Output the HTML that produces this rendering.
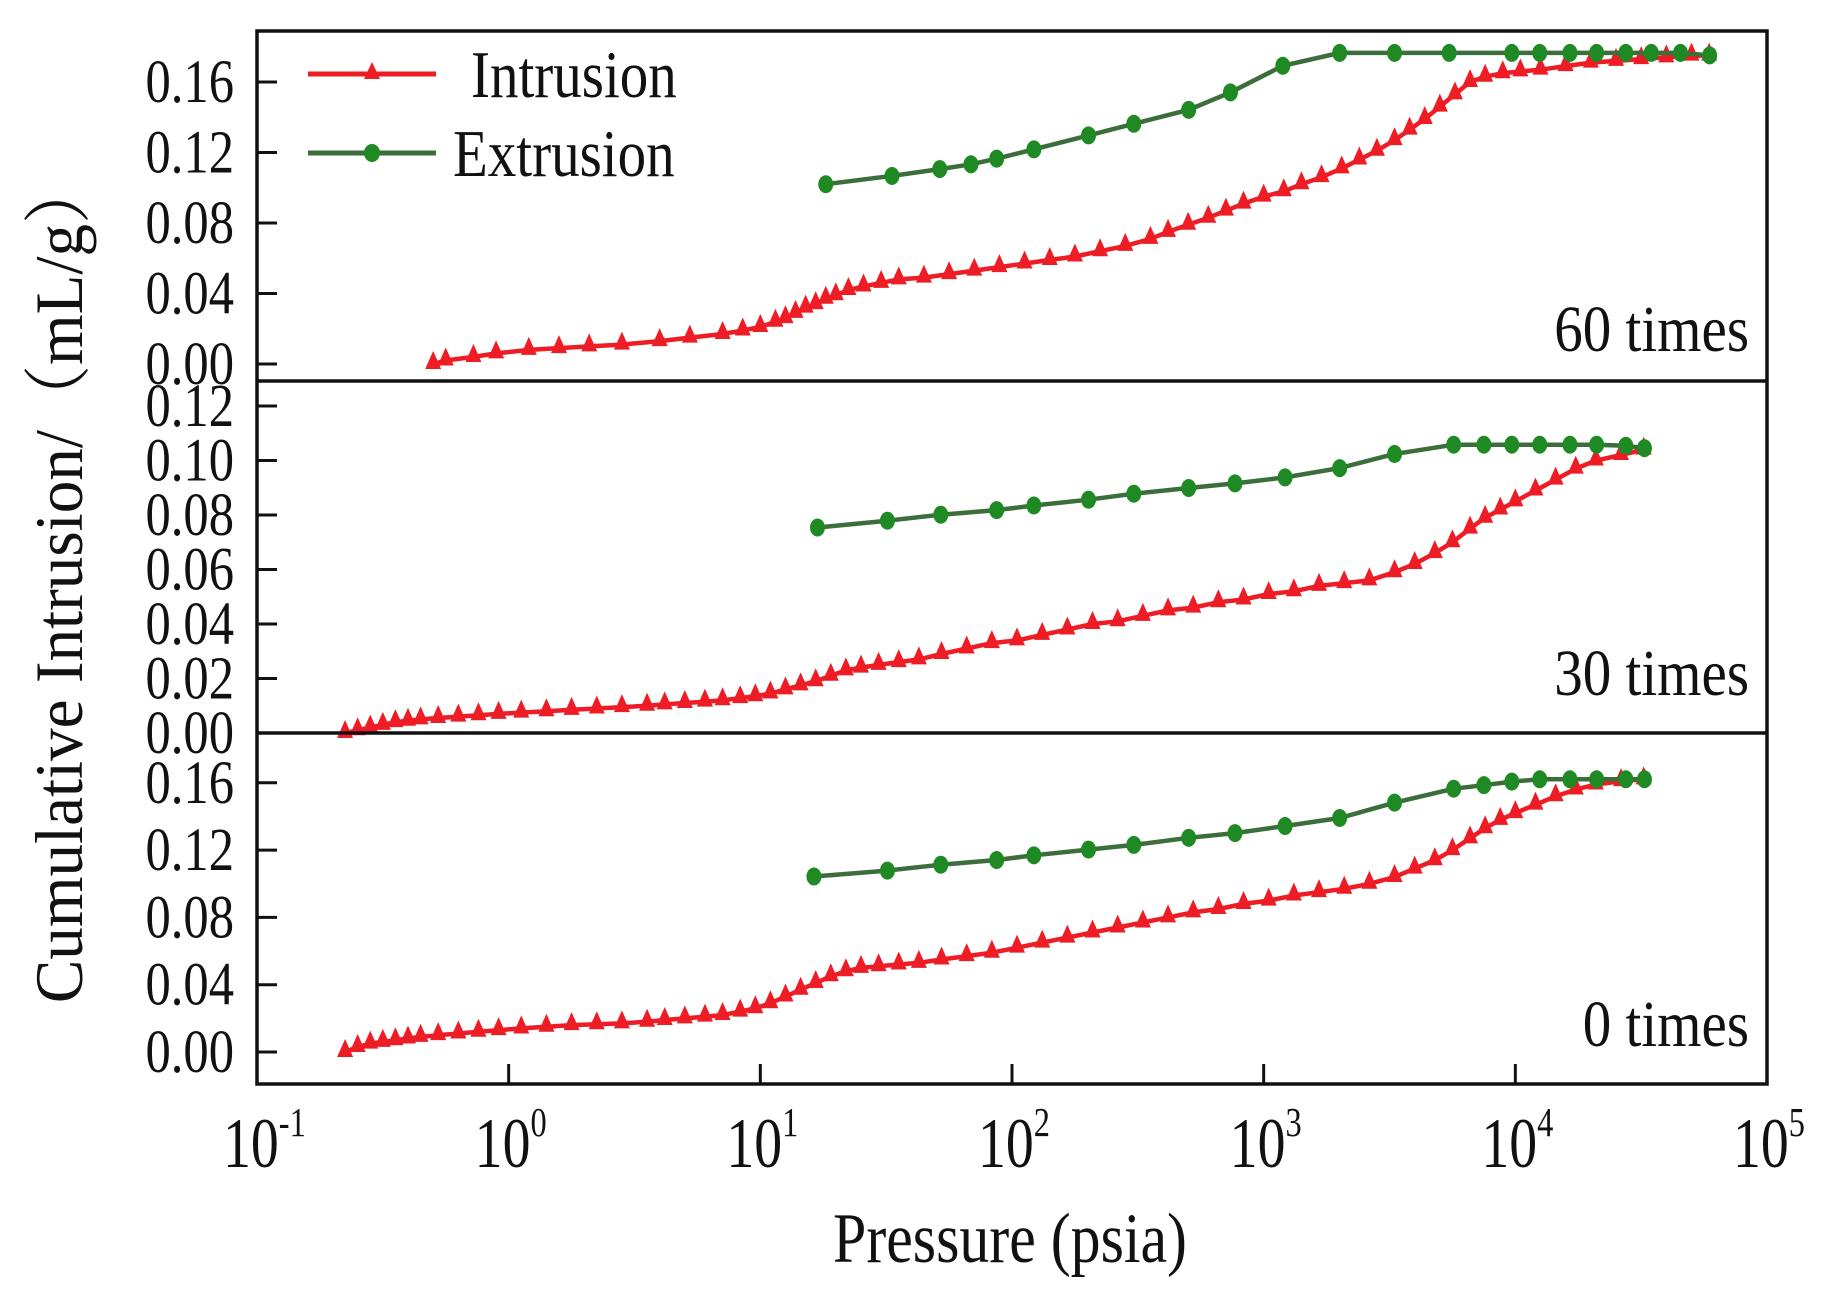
<!DOCTYPE html>
<html><head><meta charset="utf-8"><style>
html,body{margin:0;padding:0;background:#fff;}
body{position:relative;width:1822px;height:1297px;overflow:hidden;}
svg{display:block;font-family:"Liberation Serif","Noto Serif CJK SC",serif;}
</style></head><body>
<svg id="chart" width="1822" height="1297" viewBox="0 0 1822 1297" xmlns="http://www.w3.org/2000/svg">
<g id="plot"></g>
</svg>
<script>
// ---- data (log10 pressure in psia, cumulative intrusion mL/g) ----
const xTickExps = [-1, 0, 1, 2, 3, 4, 5];
const panelLabels = ["60 times", "30 times", "0 times"];
const yTicks60 = [0.00, 0.04, 0.08, 0.12, 0.16];
const yTicks30 = [0.00, 0.02, 0.04, 0.06, 0.08, 0.10, 0.12];
const yTicks0 = [0.00, 0.04, 0.08, 0.12, 0.16];

const intrLogP60 = [-0.30,-0.25,-0.14,-0.05,0.08,0.20,0.32,0.45,0.60,0.72,0.85,0.93,1.00,1.06,1.10,1.14,1.18,1.22,1.26,1.30,1.35,1.41,1.48,1.55,1.65,1.75,1.85,1.95,2.05,2.15,2.25,2.35,2.45,2.55,2.62,2.70,2.78,2.85,2.92,3.00,3.08,3.15,3.23,3.31,3.38,3.45,3.52,3.58,3.64,3.70,3.76,3.82,3.88,3.95,4.02,4.10,4.20,4.30,4.40,4.50,4.60,4.70,4.77];
const intrVal60 = [0.000,0.002,0.004,0.006,0.008,0.009,0.010,0.011,0.013,0.015,0.017,0.019,0.021,0.024,0.026,0.029,0.032,0.034,0.037,0.039,0.042,0.044,0.046,0.048,0.049,0.051,0.053,0.055,0.057,0.059,0.061,0.064,0.067,0.071,0.075,0.079,0.083,0.087,0.091,0.095,0.098,0.102,0.106,0.111,0.116,0.121,0.127,0.133,0.139,0.146,0.153,0.160,0.163,0.165,0.166,0.167,0.169,0.171,0.172,0.173,0.174,0.175,0.175];
const extrLogP60 = [1.26,1.523,1.713,1.837,1.939,2.087,2.304,2.484,2.702,2.868,3.076,3.302,3.52,3.737,3.986,4.097,4.217,4.323,4.439,4.54,4.656,4.772];
const extrVal60 = [0.102,0.1067,0.1106,0.1133,0.1165,0.1218,0.1297,0.1363,0.1442,0.1541,0.1692,0.1765,0.1765,0.1765,0.1765,0.1765,0.1765,0.1765,0.1765,0.1765,0.1765,0.1751];

const intrLogP30 = [-0.65,-0.60,-0.55,-0.50,-0.45,-0.40,-0.35,-0.28,-0.20,-0.12,-0.04,0.05,0.15,0.25,0.35,0.45,0.55,0.62,0.70,0.78,0.85,0.92,0.98,1.04,1.10,1.16,1.22,1.28,1.34,1.40,1.47,1.55,1.63,1.72,1.82,1.92,2.02,2.12,2.22,2.32,2.42,2.52,2.62,2.72,2.82,2.92,3.02,3.12,3.22,3.32,3.42,3.52,3.60,3.68,3.75,3.82,3.88,3.94,4.00,4.08,4.16,4.24,4.32,4.42,4.51];
const intrVal30 = [0.000,0.001,0.002,0.003,0.004,0.0045,0.005,0.0055,0.006,0.0065,0.007,0.0075,0.008,0.0085,0.009,0.0095,0.010,0.0105,0.011,0.0115,0.012,0.0128,0.0135,0.0145,0.016,0.0175,0.019,0.021,0.023,0.024,0.025,0.026,0.027,0.029,0.031,0.033,0.034,0.036,0.038,0.040,0.041,0.043,0.045,0.046,0.048,0.049,0.051,0.052,0.054,0.055,0.056,0.059,0.062,0.066,0.070,0.075,0.079,0.082,0.085,0.089,0.093,0.097,0.100,0.102,0.104];
const extrLogP30 = [1.227,1.505,1.717,1.939,2.087,2.304,2.484,2.702,2.886,3.085,3.302,3.52,3.755,3.875,3.986,4.097,4.217,4.323,4.439,4.513];
const extrVal30 = [0.0754,0.0779,0.0801,0.0818,0.0835,0.0856,0.0878,0.0899,0.0916,0.0938,0.0972,0.1024,0.1058,0.1058,0.1058,0.1058,0.1058,0.1058,0.1054,0.1045];

const intrLogP0 = [-0.65,-0.60,-0.55,-0.50,-0.45,-0.40,-0.35,-0.28,-0.20,-0.12,-0.04,0.05,0.15,0.25,0.35,0.45,0.55,0.62,0.70,0.78,0.85,0.92,0.98,1.04,1.10,1.16,1.22,1.28,1.34,1.40,1.47,1.55,1.63,1.72,1.82,1.92,2.02,2.12,2.22,2.32,2.42,2.52,2.62,2.72,2.82,2.92,3.02,3.12,3.22,3.32,3.42,3.52,3.60,3.68,3.75,3.82,3.88,3.94,4.00,4.08,4.16,4.24,4.32,4.42,4.51];
const intrVal0 = [0.000,0.003,0.005,0.006,0.007,0.008,0.009,0.010,0.011,0.012,0.013,0.014,0.015,0.016,0.0165,0.017,0.018,0.019,0.020,0.021,0.022,0.024,0.026,0.029,0.033,0.037,0.041,0.045,0.048,0.050,0.051,0.052,0.053,0.055,0.057,0.059,0.062,0.065,0.068,0.071,0.074,0.077,0.080,0.083,0.085,0.088,0.090,0.093,0.095,0.097,0.100,0.104,0.109,0.114,0.120,0.127,0.133,0.138,0.142,0.147,0.152,0.156,0.159,0.161,0.162];
const extrLogP0 = [1.213,1.505,1.717,1.939,2.087,2.304,2.484,2.702,2.886,3.085,3.302,3.52,3.755,3.875,3.986,4.097,4.217,4.323,4.439,4.513];
const extrVal0 = [0.1043,0.1078,0.1113,0.1141,0.1169,0.1203,0.1231,0.1273,0.1301,0.1343,0.1391,0.1482,0.1565,0.1586,0.1607,0.1621,0.1621,0.1621,0.1621,0.1621];

// ---- layout ----
const NS = "http://www.w3.org/2000/svg";
const plot = document.getElementById("plot");
const X0 = 257, X1 = 1767, DEC = (X1 - X0) / 6;
function xScale(lp) { return X0 + (lp + 1) * DEC; }
const panels = [
  {top: 31, bot: 381, zeroY: 364, unit: 0.04, px: 70.5, ticks: yTicks60, label: panelLabels[0], lblY: 351, il: intrLogP60, iv: intrVal60, el: extrLogP60, ev: extrVal60, key: "60"},
  {top: 381, bot: 733, zeroY: 733, unit: 0.02, px: 54.5, ticks: yTicks30, label: panelLabels[1], lblY: 695, il: intrLogP30, iv: intrVal30, el: extrLogP30, ev: extrVal30, key: "30"},
  {top: 733, bot: 1084, zeroY: 1052, unit: 0.04, px: 67.3, ticks: yTicks0, label: panelLabels[2], lblY: 1046, il: intrLogP0, iv: intrVal0, el: extrLogP0, ev: extrVal0, key: "0"}
];
function mk(tag, attrs, parent) {
  const e = document.createElementNS(NS, tag);
  for (const k in attrs) e.setAttribute(k, attrs[k]);
  (parent || plot).appendChild(e);
  return e;
}
const RED = "#ee1c25", GREEN = "#1f8a24", GLINE = "#3b6e3b";

panels.forEach(function (p) {
  const yS = v => p.zeroY - v / p.unit * p.px;
  const g = mk("g", {});
  
  
  p.ticks.forEach(function (t) {
    const y = yS(t);
    const tk = mk("line", {x1: X0, x2: X0 + 20, y1: y, y2: y, stroke: "#111", "stroke-width": 3}, g);
    
    
    const tl = mk("text", {transform: "translate(234," + (y + 20) + ") scale(0.92,1.12)", "text-anchor": "end", "font-size": 55, fill: "#111"}, g);
    tl.textContent = t.toFixed(2);
    
    
  });
  const ipts = p.il.map((l, i) => xScale(l).toFixed(1) + "," + yS(p.iv[i]).toFixed(1)).join(" ");
  const il = mk("polyline", {points: ipts, fill: "none", stroke: RED, "stroke-width": 4.5}, g);
  
  
  p.il.forEach(function (l, i) {
    const x = xScale(l), y = yS(p.iv[i]);
    const m = mk("polygon", {points: (x) + "," + (y - 13) + " " + (x - 8) + "," + (y + 5) + " " + (x + 8) + "," + (y + 5), fill: RED}, g);
    
    
  });
  const epts = p.el.map((l, i) => xScale(l).toFixed(1) + "," + yS(p.ev[i]).toFixed(1)).join(" ");
  const el = mk("polyline", {points: epts, fill: "none", stroke: GLINE, "stroke-width": 4.5}, g);
  
  
  p.el.forEach(function (l, i) {
    const c = mk("ellipse", {cx: xScale(l), cy: yS(p.ev[i]), rx: 7.5, ry: 9, fill: GREEN}, g);
    
    
  });
  const lb = mk("text", {transform: "translate(1749," + p.lblY + ") scale(0.95,1.1)", "text-anchor": "end", "font-size": 60, fill: "#111"}, g);
  lb.textContent = p.label;
  
  
});

const fr = mk("rect", {x: X0, y: 31, width: X1 - X0, height: 1084 - 31, fill: "none", stroke: "#111", "stroke-width": 3.5});


[381, 733].forEach(function (y) {
  const s = mk("line", {x1: X0, x2: X1, y1: y, y2: y, stroke: "#111", "stroke-width": 3.5});
  
  
});
xTickExps.forEach(function (e) {
  const x = xScale(e);
  if (e > -1 && e < 5) {
    const t = mk("line", {x1: x, x2: x, y1: 1084, y2: 1064, stroke: "#111", "stroke-width": 3});
    
    
  }
  const tx = mk("text", {transform: "translate(" + (x - 34) + ",1167) scale(0.9,1.15)", "font-size": 62, fill: "#111"});
  
  
  tx.appendChild(document.createTextNode("10"));
  const sp = mk("tspan", {dy: -27, "font-size": 36}, tx);
  sp.textContent = String(e);
});
</script>
<svg style="position:absolute;left:0;top:0" width="1822" height="1297" xmlns="http://www.w3.org/2000/svg" font-family="'Liberation Serif','Noto Serif CJK SC',serif">
  <g>
    <g>
      <line x1="308" y1="74" x2="436" y2="74" stroke="#ee1c25" stroke-width="5"/>
      <polygon points="372,62 364,79 380,79" fill="#ee1c25"/>
      <text transform="translate(471,97) scale(0.95,1.12)" font-size="60" fill="#111">Intrusion</text>
    </g>
    <g>
      <line x1="308" y1="153" x2="436" y2="153" stroke="#3b6e3b" stroke-width="5"/>
      <ellipse cx="372" cy="153" rx="8" ry="9" fill="#1f8a24"/>
      <text transform="translate(453,176) scale(0.95,1.12)" font-size="60" fill="#111">Extrusion</text>
    </g>
  </g>
  <text transform="translate(1010,1262) scale(0.95,1.12)" text-anchor="middle" font-size="63" fill="#111">Pressure (psia)</text>
  <text transform="translate(82,581) rotate(-90) scale(1.05,1.1)" text-anchor="middle" font-size="62" fill="#111">Cumulative Intrusion/（mL/g）</text>
</svg>
</body></html>
